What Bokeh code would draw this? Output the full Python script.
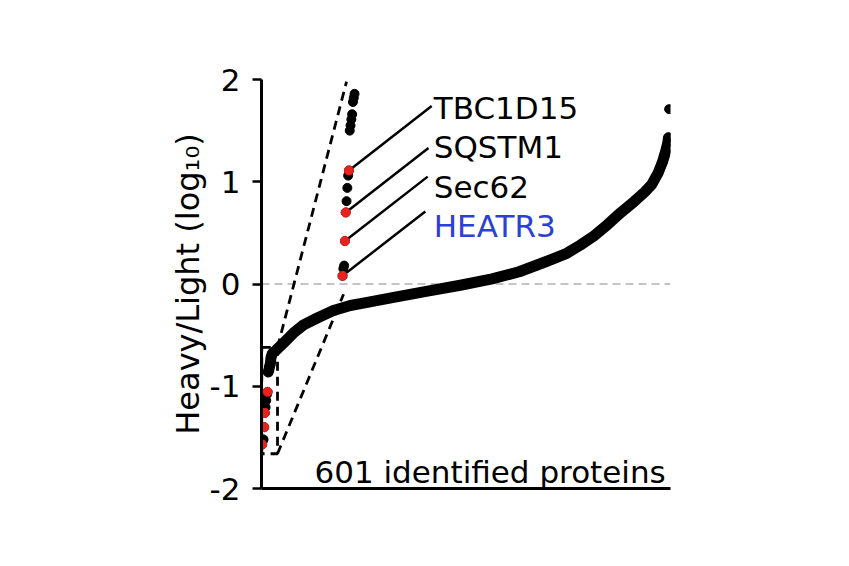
from bokeh.plotting import figure
from bokeh.models import Range1d, FixedTicker, Span
from bokeh.core.properties import value
from bokeh.embed import file_html
from bokeh.resources import INLINE

# lowest 16 proteins, ranks 1..16 (log10 Heavy/Light)
low_ranks = [1, 2, 3, 4, 5, 6, 7, 8, 9, 10, 11, 12, 13, 14, 15, 16]
low_values = [-1.57, -1.535, -1.52, -1.40, -1.26, -1.205, -1.14, -1.08, -1.055,
              -0.86, -0.835, -0.805, -0.78, -0.72, -0.70, -0.68]

curve_ranks = [21, 32, 47, 62, 83, 106, 131, 156, 195, 245, 295, 340, 380, 420,
               450, 470, 490, 510, 530, 550, 565, 575, 585, 591, 596, 599, 600]
curve_values = [-0.65, -0.58, -0.48, -0.40, -0.33, -0.26, -0.21, -0.18, -0.13,
                -0.07, -0.01, 0.05, 0.12, 0.22, 0.30, 0.38, 0.47, 0.58, 0.70,
                0.81, 0.90, 0.97, 1.09, 1.19, 1.30, 1.38, 1.43]
top_rank = [601]
top_value = [1.71]

# highlighted proteins
hit_names = ["TBC1D15", "SQSTM1", "Sec62", "HEATR3"]
hit_ranks = [9, 5, 4, 1]
hit_text_colors = ["black", "black", "black", "#2b40d4"]

RED = "#e8221e"
FONT = "DejaVu Sans"
FS = "31px"

# inset (expanded view of the lowest ranks)
ZY, ZY0 = 2.0, 3.22
ZX, ZX0 = 1.18, 118.3
box_l, box_r, box_b, box_t = 0.4, 23.6, -1.66, -0.62


def zx(r):
    return ZX0 + ZX * r


def zy(v):
    return ZY * v + ZY0


p = figure(width=833, height=550, x_range=Range1d(0, 603), y_range=Range1d(-2, 2),
           output_backend="svg", toolbar_location=None,
           min_border_left=261, min_border_top=79, min_border_right=163, min_border_bottom=62)
p.outline_line_color = None
p.xgrid.visible = False
p.ygrid.visible = False

p.add_layout(Span(location=0, dimension="width", line_color="#c4c4c4", line_width=2,
                  line_dash="8 5", level="underlay"))

# dashed box + projection lines
p.quad(left=[box_l], right=[box_r], bottom=[box_b], top=[box_t], fill_color=None,
       line_color="black", line_width=2.8, line_dash="9 6")
p.segment(x0=[box_r, box_r], y0=[box_t, box_b], x1=[125.4, 121.0], y1=[zy(box_t), zy(box_b)],
          line_color="black", line_width=2.8, line_dash="9 6")

# main ranked curve
band_x = low_ranks[9:] + curve_ranks
band_y = low_values[9:] + curve_values
p.line(band_x, band_y, line_color="black", line_width=11, line_cap="round", line_join="round")
p.scatter(band_x + top_rank, band_y + top_value, size=9, color="black")
p.scatter(low_ranks[:9], low_values[:9], size=9, color="black")

# expanded column
p.scatter([zx(r) for r in low_ranks], [zy(v) for v in low_values], size=9, color="black")

hit_vals = [low_values[low_ranks.index(r)] for r in hit_ranks]
p.scatter(hit_ranks, hit_vals, size=9, color=RED)
hx = [zx(r) for r in hit_ranks]
hy = [zy(v) for v in hit_vals]
p.segment(x0=hx, y0=hy, x1=[x + 122 for x in hx], y1=[y + 0.63 for y in hy],
          line_color="black", line_width=2.5)
p.scatter(hx, hy, size=9, color=RED)

p.text(x=[254] * 4, y=[1.72, 1.335, 0.95, 0.565], text=hit_names, text_color=hit_text_colors,
       text_font=value(FONT), text_font_size=value(FS), text_baseline="alphabetic",
       text_align="left")
p.text(x=[596], y=[-1.834], text=["601 identified proteins"], text_color="black",
       text_font=value(FONT), text_font_size=value(FS), text_baseline="alphabetic",
       text_align="right")

# axes
p.xaxis.ticker = FixedTicker(ticks=[])
p.xaxis.major_tick_out = 0
p.xaxis.major_tick_in = 0
p.xaxis.minor_tick_out = 0
p.xaxis.minor_tick_in = 0
p.xaxis.axis_line_width = 3
p.xaxis.major_label_text_font_size = "0px"

p.yaxis.ticker = FixedTicker(ticks=[-2, -1, 0, 1, 2])
p.yaxis.major_label_overrides = {-2: "-2", -1: "-1", 0: "0", 1: "1", 2: "2"}
p.yaxis.major_tick_out = 9
p.yaxis.major_tick_in = 0
p.yaxis.minor_tick_out = 0
p.yaxis.minor_tick_in = 0
p.yaxis.major_tick_line_width = 2.5
p.yaxis.axis_line_width = 3
p.yaxis.major_label_standoff = 12
p.yaxis.major_label_text_font = FONT
p.yaxis.major_label_text_font_size = FS
p.yaxis.major_label_text_color = "black"
p.yaxis.axis_label = "Heavy/Light (log\u2081\u2080)"
p.yaxis.axis_label_text_font = FONT
p.yaxis.axis_label_text_font_size = "32px"
p.yaxis.axis_label_text_font_style = "normal"
p.yaxis.axis_label_text_color = "black"
p.yaxis.axis_label_standoff = 0

open("out.html", "w").write(file_html(p, INLINE))
